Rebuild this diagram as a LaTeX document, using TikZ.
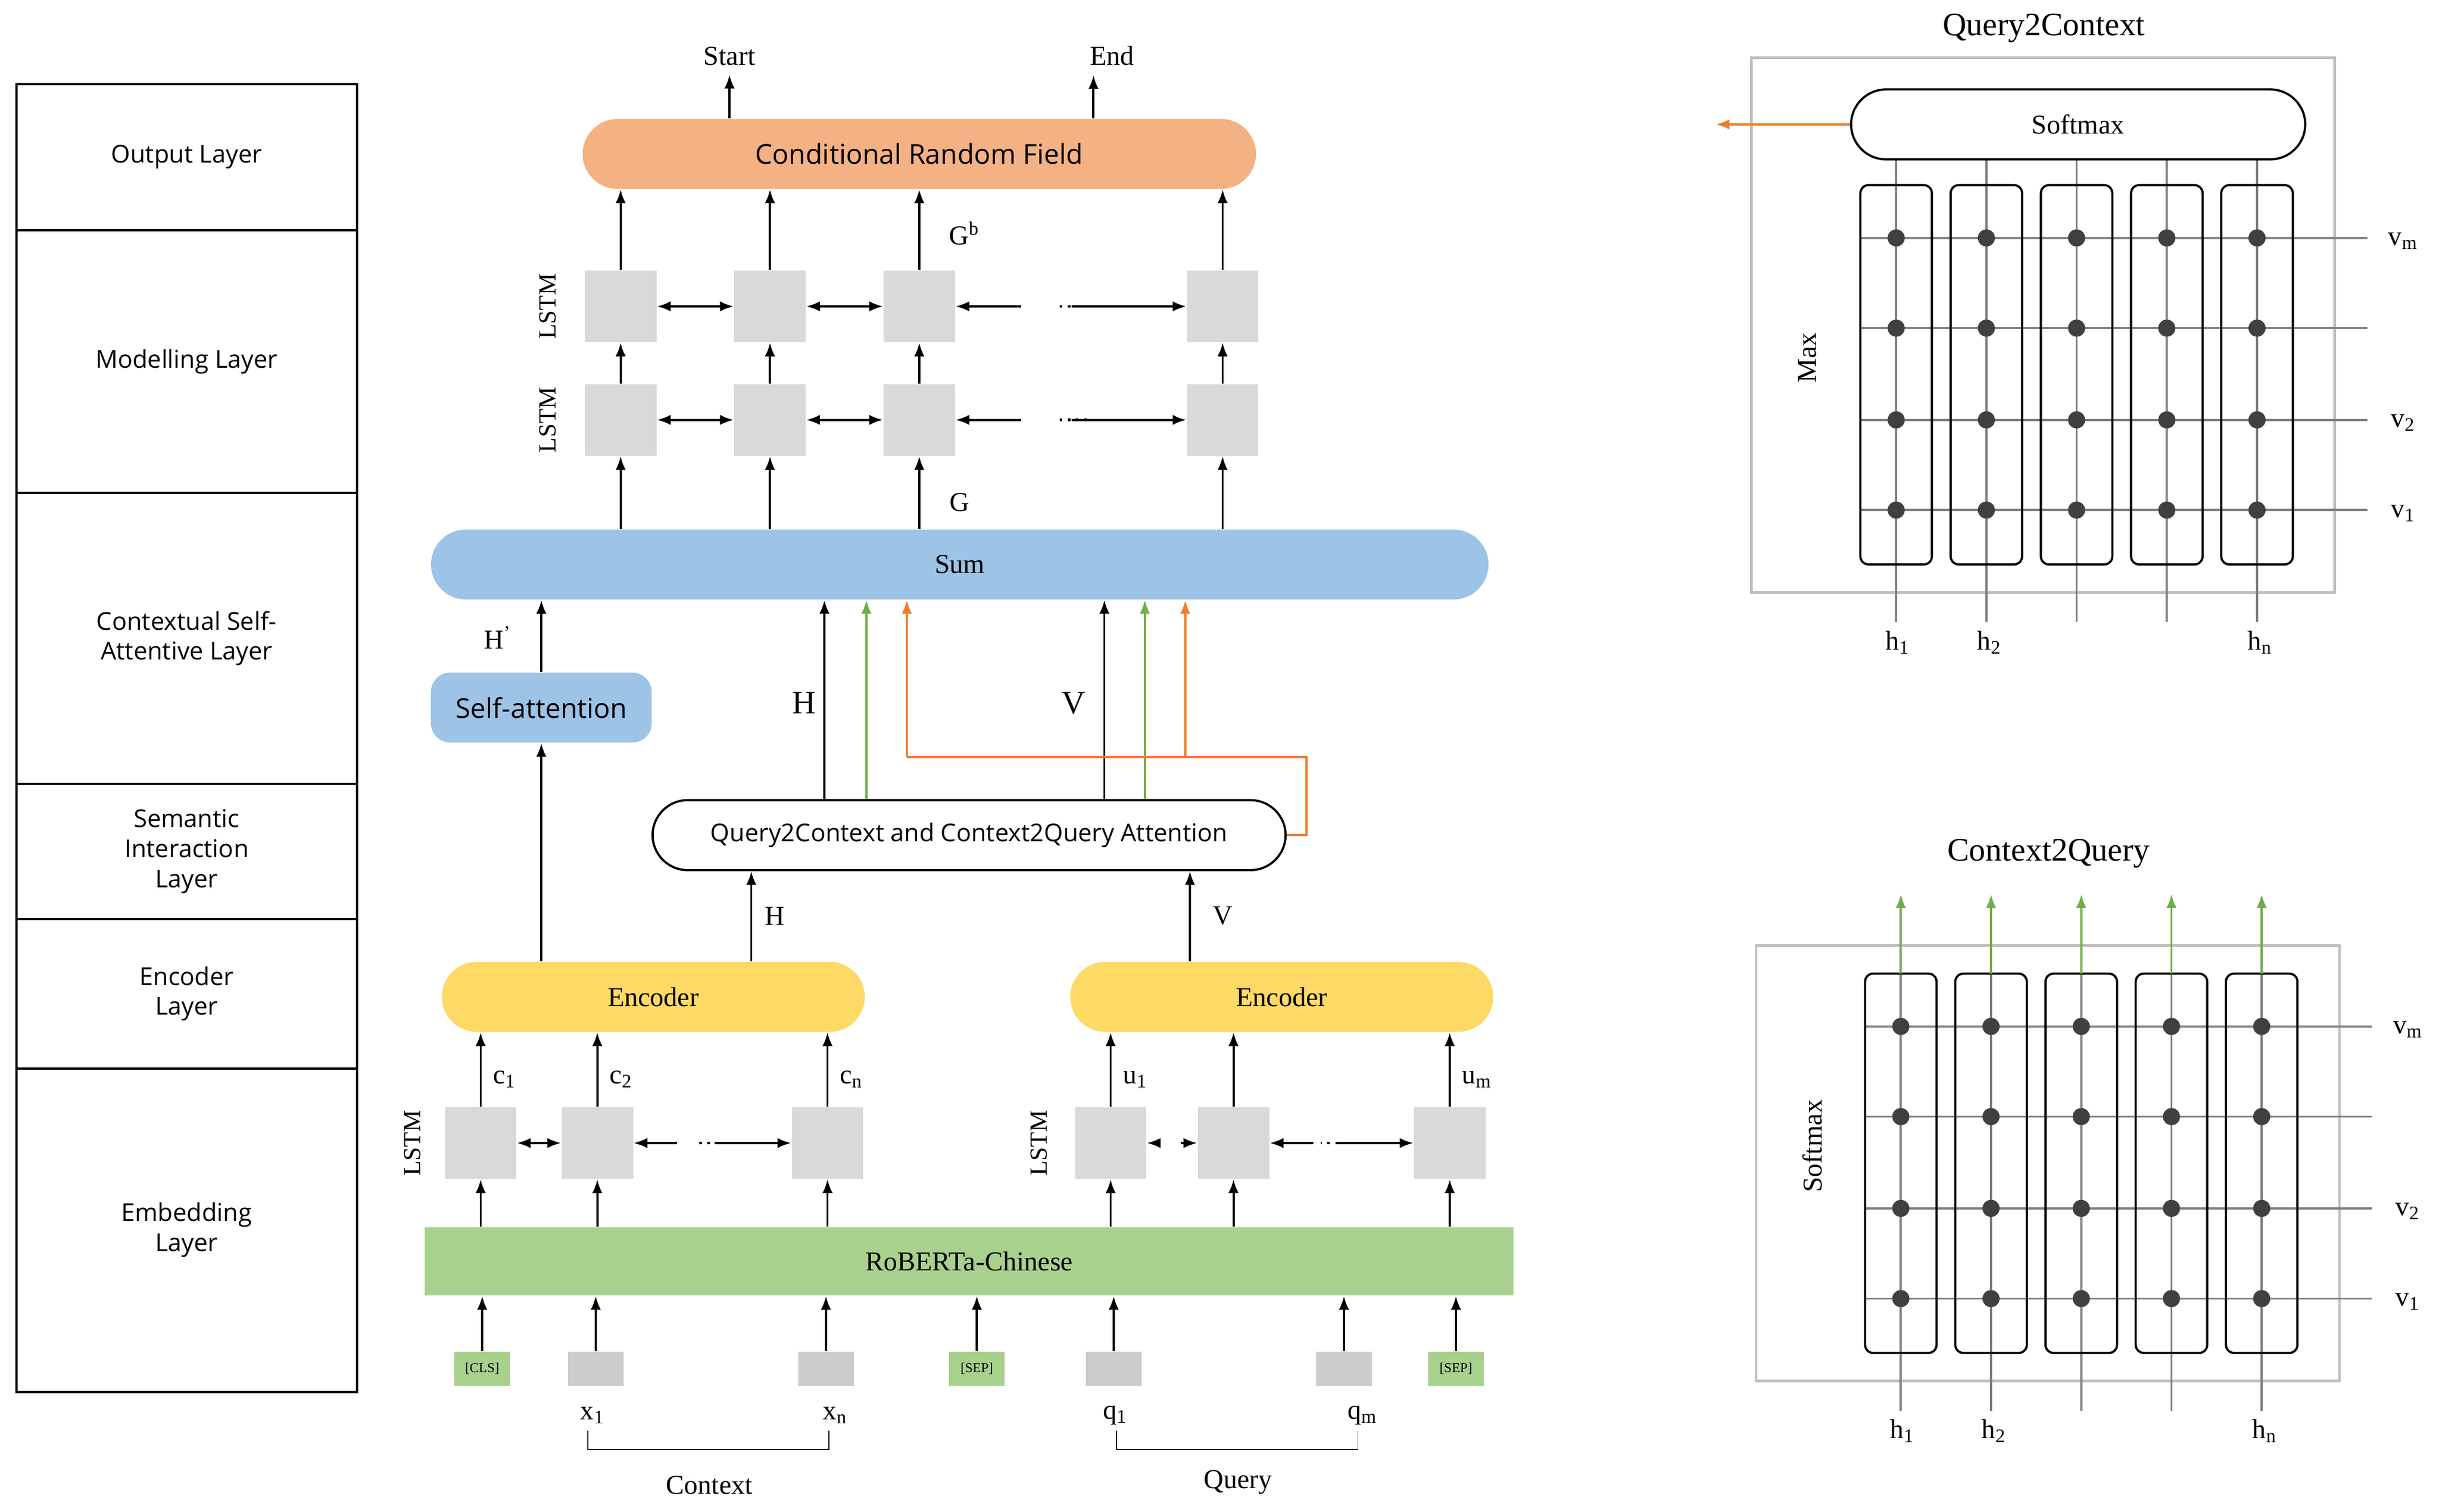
\documentclass[tikz,border=0pt]{standalone}
\usepackage{fontspec}
\setmainfont{Liberation Serif}
\setsansfont{Open Sans}
\usetikzlibrary{arrows.meta,positioning}
\definecolor{crfc}{HTML}{F4B183}
\definecolor{sumc}{HTML}{9DC3E6}
\definecolor{encc}{HTML}{FFD966}
\definecolor{embc}{HTML}{A9D18E}
\definecolor{orng}{HTML}{ED7D31}
\definecolor{grn}{HTML}{70AD47}
\tikzset{
  layer/.style={draw, line width=0.8pt, minimum width=4.38cm, font=\sffamily\small, align=center, inner sep=0pt},
  cell/.style={fill=black!15, minimum size=0.92cm, inner sep=0pt},
  bar/.style={rounded corners=0.45cm, minimum height=0.9cm, inner sep=0pt},
  tok/.style={minimum width=0.72cm, minimum height=0.44cm, inner sep=0pt, font=\tiny},
  arr/.style={-{Latex[length=5pt]}, line width=0.8pt},
  dbl/.style={{Latex[length=5pt]}-{Latex[length=5pt]}, line width=0.8pt},
  col/.style={draw, rounded corners=3pt, minimum width=0.92cm, minimum height=4.88cm, line width=0.8pt},
  dot/.style={circle, fill=black!75, inner sep=0pt, minimum size=0.22cm},
  grid/.style={black!50, line width=0.8pt}
}
\newcommand\attgrid[1]{%
  \begin{scope}[shift={#1}]
    \foreach \x in {1219,1277,1335,1393,1451}
      \draw[grid] (\x,103) -- (\x,400);
    \foreach \y in {153,211,270,328}
      \draw[grid] (1196,\y) -- (1522,\y);
    \foreach \x in {1219,1277,1335,1393,1451}{
      \node[col] at (\x,241) {};
      \foreach \y in {153,211,270,328}
        \node[dot] at (\x,\y) {};
    }
    \node at (1545,155) {v\textsubscript{m}};
    \node at (1545,272) {v\textsubscript{2}};
    \node at (1545,330) {v\textsubscript{1}};
    \node at (1220,413) {h\textsubscript{1}};
    \node at (1279,413) {h\textsubscript{2}};
    \node at (1453,413) {h\textsubscript{n}};
  \end{scope}}
\begin{document}
\begin{tikzpicture}[x=0.02cm, y=-0.02cm]
\useasboundingbox (0,0) rectangle (1568,972);
% layers
\node[layer, minimum height=1.88cm] (lo) at (120,101) {Output Layer};
\node[layer, minimum height=3.38cm] (lm) at (120,232.5) {Modelling Layer};
\node[layer, minimum height=3.74cm] (lc) at (120,410.5) {Contextual Self-\\Attentive Layer};
\node[layer, minimum height=1.74cm] (ls) at (120,547.5) {Semantic\\Interaction\\Layer};
\node[layer, minimum height=1.92cm] (le) at (120,639) {Encoder\\Layer};
\node[layer, minimum height=4.16cm] (lb) at (120,791) {Embedding\\Layer};

% output
\node[bar, fill=crfc, minimum width=8.66cm, font=\sffamily] (crf) at (591,99) {Conditional Random Field};
\node (start) at (469,36) {Start};
\node (end) at (715,36) {End};
\draw[arr] (crf.north -| 469,0) -- (start.south -| 469,0);
\draw[arr] (crf.north -| 703,0) -- (end.south -| 703,0);

% modelling
\node[bar, fill=sumc, minimum width=13.6cm] (sum) at (617,363) {Sum};
\foreach \i/\x in {1/399,2/495,3/591,4/786}{
  \node[cell] (m\i) at (\x,197) {};
  \node[cell] (n\i) at (\x,270) {};
  \draw[arr] (m\i.north) -- (m\i.north |- crf.south);
  \draw[arr] (n\i.north) -- (m\i.south);
  \draw[arr] (n\i.south |- sum.north) -- (n\i.south);
}
\foreach \r in {m,n}{
  \draw[dbl] (\r1) -- (\r2);
  \draw[dbl] (\r2) -- (\r3);
  \draw[{Latex[length=5pt]}-, line width=0.8pt] (\r3.east) -- ++(42,0);
  \draw[dotted, line width=1pt] ([xshift=48]\r3.east) -- ([xshift=-48]\r4.west);
  \draw[-{Latex[length=5pt]}, line width=0.8pt] ([xshift=-42]\r4.west) -- (\r4.west);
}
\node[rotate=90, font=\small] at (352,197) {LSTM};
\node[rotate=90, font=\small] at (352,270) {LSTM};
\node at (620,150) {G\textsuperscript{b}};
\node at (617,323) {G};

% self attention and q2c
\node[bar, fill=sumc, minimum width=2.84cm, rounded corners=0.25cm, font=\sffamily] (sa) at (348,455) {Self-attention};
\node[bar, draw, line width=0.8pt, minimum width=8.14cm, font=\sffamily\small] (qc) at (623,537) {Query2Context and Context2Query Attention};
\draw[arr] (sa.north) -- (sa.north |- sum.south);
\node at (320,410) {H\textsuperscript{'}};
\foreach \x in {530,710}
  \draw[arr] (qc.north -| \x,0) -- (sum.south -| \x,0);
\foreach \x in {557,736}
  \draw[arr, grn] (qc.north -| \x,0) -- (sum.south -| \x,0);
\node[font=\large] at (517,452) {H};
\node[font=\large] at (690,452) {V};
\coordinate (oa) at (583,487);
\coordinate (ob) at (762,487);
\coordinate (oc) at (840,487);
\draw[orng, line width=0.8pt] (qc.east) -| (oc) -- (oa);
\draw[arr, orng] (oa) -- (oa |- sum.south);
\draw[arr, orng] (ob) -- (ob |- sum.south);

% encoders
\node[bar, fill=encc, minimum width=5.44cm] (encl) at (420,641) {Encoder};
\node[bar, fill=encc, minimum width=5.44cm] (encr) at (824,641) {Encoder};
\draw[arr] (encl.north -| sa.south) -- (sa.south);
\draw[arr] (encl.north -| 483,0) -- (qc.south -| 483,0);
\draw[arr] (encr.north -| 765,0) -- (qc.south -| 765,0);
\node at (498,589) {H};
\node at (786,589) {V};

% embedding
\node[fill=embc, minimum width=14cm, minimum height=0.88cm, inner sep=0pt] (rob) at (623,811) {RoBERTa-Chinese};
\foreach \i/\x/\t in {1/309/c\textsubscript{1},2/384/c\textsubscript{2},3/532/c\textsubscript{n},4/714/u\textsubscript{1},5/793/,6/932/u\textsubscript{m}}{
  \node[cell] (c\i) at (\x,735) {};
  \draw[arr] (c\i.north) -- (c\i.north |- encl.south);
  \draw[arr] (c\i.south |- rob.north) -- (c\i.south);
  \node[right=1pt] at (\x,694) {\t};
}
\draw[dbl] (c1) -- (c2);
\foreach \a/\b in {2/3,5/6}{
  \draw[{Latex[length=5pt]}-, line width=0.8pt] (c\a.east) -- ++(28,0);
  \draw[dotted, line width=1pt] ([xshift=34]c\a.east) -- ([xshift=-34]c\b.west);
  \draw[-{Latex[length=5pt]}, line width=0.8pt] ([xshift=-28]c\b.west) -- (c\b.west);
}
\draw[{Latex[length=5pt]}-, line width=0.8pt] (c4.east) -- ++(6,0);
\draw[-{Latex[length=5pt]}, line width=0.8pt] ([xshift=-6]c5.west) -- (c5.west);
\node[rotate=90, font=\small] at (265,735) {LSTM};
\node[rotate=90, font=\small] at (668,735) {LSTM};

% tokens
\foreach \i/\x/\c/\t in {1/310/embc/[CLS],2/383/black!20/,3/531/black!20/,4/628/embc/[SEP],5/716/black!20/,6/864/black!20/,7/936/embc/[SEP]}{
  \node[tok, fill=\c] (t\i) at (\x,880) {\t};
  \draw[arr] (t\i.north) -- (t\i.north |- rob.south);
}
\node (x1) at (381,910) {x\textsubscript{1}};
\node (xn) at (537,910) {x\textsubscript{n}};
\node (q1) at (717,910) {q\textsubscript{1}};
\node (qm) at (876,910) {q\textsubscript{m}};
\draw (378,920) -- (378,932) -- (533,932) -- (533,920);
\draw (718,920) -- (718,932) -- (873,932) -- (873,920);
\node at (456,955) {Context};
\node at (796,953) {Query};

% query2context
\node[font=\large] at (1314,18) {Query2Context};
\draw[black!25, line width=1pt] (1126,37) rectangle (1501,381);
\attgrid{(0,0)}
\node[bar, draw, fill=white, line width=0.8pt, minimum width=5.84cm] (sm) at (1336,80) {Softmax};
\coordinate (smo) at (1103,80);
\draw[arr, orng] (sm.west) -- (smo);
\node[rotate=90] at (1162,230) {Max};

% context2query
\node[font=\large] at (1317,549) {Context2Query};
\draw[black!25, line width=1pt] (1129,608) rectangle (1504,888);
\attgrid{(3,507)}
\foreach \x in {1222,1280,1338,1396,1454}
  \draw[arr, grn] (\x,626) -- (\x,575);
\node[rotate=90] at (1165,737) {Softmax};
\end{tikzpicture}
\end{document}
